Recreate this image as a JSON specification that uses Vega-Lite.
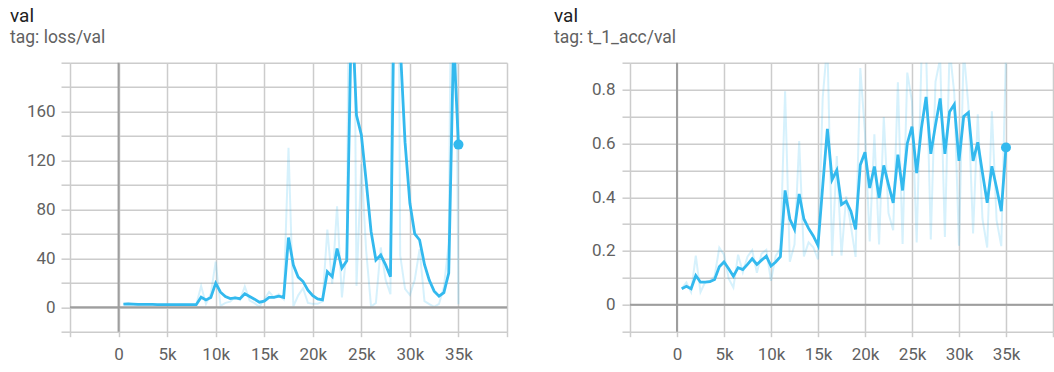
{
  "$schema": "https://vega.github.io/schema/vega-lite/v6.json",
  "background": "white",
  "padding": {"left": 10, "top": 6.7, "right": 0, "bottom": 5},
  "spacing": 46,
  "config": {
    "view": {"stroke": null},
    "font": "Roboto",
    "title": {"anchor": "start", "frame": "group", "font": "Roboto", "fontSize": 19, "fontWeight": "normal", "color": "#212121", "subtitleFont": "Roboto", "subtitleFontSize": 17.5, "subtitleColor": "#616161", "subtitlePadding": 3.5, "offset": 15},
    "axis": {"grid": true, "gridColor": "#cccccc", "gridWidth": 1.5, "tickColor": "#cccccc", "tickWidth": 1.5, "domain": false, "labelColor": "#616161", "labelFont": "Roboto", "labelFontSize": 17, "title": null, "tickCount": 30}
  },
  "hconcat": [
    {
      "width": 437,
      "height": 269,
      "title": {"text": "val", "subtitle": "tag: loss/val", "dx": -60},
      "data": {"values": [
        {"step": 500, "raw": 2.6, "smoothed": 2.6},
        {"step": 1000, "raw": 3.1, "smoothed": 2.8},
        {"step": 1500, "raw": 2.3, "smoothed": 2.6},
        {"step": 2000, "raw": 2.1, "smoothed": 2.4},
        {"step": 2500, "raw": 2.4, "smoothed": 2.4},
        {"step": 3000, "raw": 2.15, "smoothed": 2.3},
        {"step": 3500, "raw": 2.3, "smoothed": 2.3},
        {"step": 4000, "raw": 2.05, "smoothed": 2.2},
        {"step": 4500, "raw": 2.2, "smoothed": 2.2},
        {"step": 5000, "raw": 2.2, "smoothed": 2.2},
        {"step": 5500, "raw": 2.2, "smoothed": 2.2},
        {"step": 6000, "raw": 1.95, "smoothed": 2.1},
        {"step": 6500, "raw": 2.35, "smoothed": 2.2},
        {"step": 7000, "raw": 2.2, "smoothed": 2.2},
        {"step": 7500, "raw": 1.95, "smoothed": 2.1},
        {"step": 8000, "raw": 2.1, "smoothed": 2.1},
        {"step": 8500, "raw": 17.35, "smoothed": 8.2},
        {"step": 9000, "raw": 2.7, "smoothed": 6.0},
        {"step": 9500, "raw": 11, "smoothed": 8.0},
        {"step": 10000, "raw": 37.25, "smoothed": 19.7},
        {"step": 10500, "raw": 1.2, "smoothed": 12.3},
        {"step": 11000, "raw": 3.55, "smoothed": 8.8},
        {"step": 11500, "raw": 4.55, "smoothed": 7.1},
        {"step": 12000, "raw": 8.6, "smoothed": 7.7},
        {"step": 12500, "raw": 5.95, "smoothed": 7.0},
        {"step": 13000, "raw": 17, "smoothed": 11.0},
        {"step": 13500, "raw": 5.5, "smoothed": 8.8},
        {"step": 14000, "raw": 3.3, "smoothed": 6.6},
        {"step": 14500, "raw": 0.35, "smoothed": 4.1},
        {"step": 15000, "raw": 6.35, "smoothed": 5.0},
        {"step": 15500, "raw": 12.5, "smoothed": 8.0},
        {"step": 16000, "raw": 8, "smoothed": 8.0},
        {"step": 16500, "raw": 10.5, "smoothed": 9.0},
        {"step": 17000, "raw": 6.5, "smoothed": 8.0},
        {"step": 17500, "raw": 130.5, "smoothed": 57},
        {"step": 18000, "raw": 0.75, "smoothed": 34.5},
        {"step": 18500, "raw": 9.75, "smoothed": 24.6},
        {"step": 19000, "raw": 15.6, "smoothed": 21},
        {"step": 19500, "raw": 3.5, "smoothed": 14},
        {"step": 20000, "raw": 2.75, "smoothed": 9.5},
        {"step": 20500, "raw": 2.75, "smoothed": 6.8},
        {"step": 21000, "raw": 4.8, "smoothed": 6.0},
        {"step": 21500, "raw": 63.5, "smoothed": 29},
        {"step": 22000, "raw": 19, "smoothed": 25},
        {"step": 22500, "raw": 82.5, "smoothed": 48},
        {"step": 23000, "raw": 8, "smoothed": 32},
        {"step": 23500, "raw": 47, "smoothed": 38},
        {"step": 24000, "raw": 568, "smoothed": 250},
        {"step": 24500, "raw": 17.5, "smoothed": 157},
        {"step": 25000, "raw": 117, "smoothed": 141},
        {"step": 25500, "raw": 46, "smoothed": 103},
        {"step": 26000, "raw": 0.5, "smoothed": 62},
        {"step": 26500, "raw": 3.5, "smoothed": 38.6},
        {"step": 27000, "raw": 48.85, "smoothed": 42.7},
        {"step": 27500, "raw": 22.45, "smoothed": 34.6},
        {"step": 28000, "raw": 10.6, "smoothed": 25},
        {"step": 28500, "raw": 787.5, "smoothed": 330},
        {"step": 29000, "raw": 42.5, "smoothed": 215},
        {"step": 29500, "raw": 15, "smoothed": 135},
        {"step": 30000, "raw": 10, "smoothed": 85},
        {"step": 30500, "raw": 22.5, "smoothed": 60},
        {"step": 31000, "raw": 47.5, "smoothed": 55},
        {"step": 31500, "raw": 5, "smoothed": 35},
        {"step": 32000, "raw": 2.5, "smoothed": 22},
        {"step": 32500, "raw": 0.3, "smoothed": 13.2},
        {"step": 33000, "raw": 2.7, "smoothed": 9},
        {"step": 33500, "raw": 16.5, "smoothed": 12},
        {"step": 34000, "raw": 52, "smoothed": 28},
        {"step": 34500, "raw": 508, "smoothed": 220},
        {"step": 35000, "raw": 2.5, "smoothed": 133}
      ]},
      "layer": [
        {
          "mark": {"type": "line", "clip": true, "color": "#33b9ee", "opacity": 0.2, "strokeWidth": 2},
          "encoding": {
            "x": {"field": "step", "type": "quantitative",
              "scale": {"domain": [-5000, 40000], "nice": false, "zero": false},
              "axis": {"values": [-5000, 0, 5000, 10000, 15000, 20000, 25000, 30000, 35000, 40000], "labelExpr": "datum.value < 0 || datum.value > 35000 ? '' : (datum.value == 0 ? '0' : (datum.value / 1000) + 'k')", "tickSize": 5, "labelPadding": 10}},
            "y": {"field": "raw", "type": "quantitative",
              "scale": {"domain": [-20, 200], "nice": false, "zero": false},
              "axis": {"values": [-20, 0, 20, 40, 60, 80, 100, 120, 140, 160, 180, 200], "format": "d", "labelExpr": "datum.value >= 0 && datum.value <= 160 && datum.value % 40 == 0 ? datum.label : ''", "tickSize": 9, "labelPadding": 6}}
          }
        },
        {
          "data": {"values": [{}]},
          "mark": {"type": "rule", "color": "#9e9e9e", "strokeWidth": 2},
          "encoding": {"y": {"datum": 0, "type": "quantitative"}}
        },
        {
          "data": {"values": [{}]},
          "mark": {"type": "rule", "color": "#9e9e9e", "strokeWidth": 2},
          "encoding": {"x": {"datum": 0, "type": "quantitative"}}
        },
        {
          "mark": {"type": "line", "clip": true, "color": "#33b9ee", "strokeWidth": 2.8},
          "encoding": {
            "x": {"field": "step", "type": "quantitative"},
            "y": {"field": "smoothed", "type": "quantitative"}
          }
        },
        {
          "transform": [{"filter": "datum.step == 35000"}],
          "mark": {"type": "point", "filled": true, "opacity": 1, "color": "#33b9ee", "size": 100},
          "encoding": {
            "x": {"field": "step", "type": "quantitative"},
            "y": {"field": "smoothed", "type": "quantitative"}
          }
        }
      ]
    },
    {
      "width": 423,
      "height": 269,
      "title": {"text": "val", "subtitle": "tag: t_1_acc/val", "dx": -76},
      "data": {"values": [
        {"step": 500, "raw": 0.06, "smoothed": 0.06},
        {"step": 1000, "raw": 0.083, "smoothed": 0.069},
        {"step": 1500, "raw": 0.047, "smoothed": 0.06},
        {"step": 2000, "raw": 0.183, "smoothed": 0.109},
        {"step": 2500, "raw": 0.047, "smoothed": 0.084},
        {"step": 3000, "raw": 0.084, "smoothed": 0.084},
        {"step": 3500, "raw": 0.089, "smoothed": 0.086},
        {"step": 4000, "raw": 0.106, "smoothed": 0.094},
        {"step": 4500, "raw": 0.212, "smoothed": 0.141},
        {"step": 5000, "raw": 0.186, "smoothed": 0.159},
        {"step": 5500, "raw": 0.097, "smoothed": 0.134},
        {"step": 6000, "raw": 0.064, "smoothed": 0.106},
        {"step": 6500, "raw": 0.186, "smoothed": 0.138},
        {"step": 7000, "raw": 0.121, "smoothed": 0.131},
        {"step": 7500, "raw": 0.179, "smoothed": 0.15},
        {"step": 8000, "raw": 0.203, "smoothed": 0.171},
        {"step": 8500, "raw": 0.119, "smoothed": 0.15},
        {"step": 9000, "raw": 0.19, "smoothed": 0.166},
        {"step": 9500, "raw": 0.204, "smoothed": 0.181},
        {"step": 10000, "raw": 0.089, "smoothed": 0.144},
        {"step": 10500, "raw": 0.182, "smoothed": 0.159},
        {"step": 11000, "raw": 0.209, "smoothed": 0.179},
        {"step": 11500, "raw": 0.794, "smoothed": 0.425},
        {"step": 12000, "raw": 0.16, "smoothed": 0.319},
        {"step": 12500, "raw": 0.224, "smoothed": 0.281},
        {"step": 13000, "raw": 0.609, "smoothed": 0.412},
        {"step": 13500, "raw": 0.18, "smoothed": 0.319},
        {"step": 14000, "raw": 0.232, "smoothed": 0.284},
        {"step": 14500, "raw": 0.214, "smoothed": 0.256},
        {"step": 15000, "raw": 0.169, "smoothed": 0.221},
        {"step": 15500, "raw": 0.769, "smoothed": 0.44},
        {"step": 16000, "raw": 0.975, "smoothed": 0.654},
        {"step": 16500, "raw": 0.182, "smoothed": 0.465},
        {"step": 17000, "raw": 0.553, "smoothed": 0.5},
        {"step": 17500, "raw": 0.183, "smoothed": 0.373},
        {"step": 18000, "raw": 0.403, "smoothed": 0.385},
        {"step": 18500, "raw": 0.293, "smoothed": 0.348},
        {"step": 19000, "raw": 0.178, "smoothed": 0.28},
        {"step": 19500, "raw": 0.88, "smoothed": 0.52},
        {"step": 20000, "raw": 0.638, "smoothed": 0.567},
        {"step": 20500, "raw": 0.235, "smoothed": 0.434},
        {"step": 21000, "raw": 0.634, "smoothed": 0.514},
        {"step": 21500, "raw": 0.224, "smoothed": 0.398},
        {"step": 22000, "raw": 0.698, "smoothed": 0.518},
        {"step": 22500, "raw": 0.341, "smoothed": 0.447},
        {"step": 23000, "raw": 0.277, "smoothed": 0.379},
        {"step": 23500, "raw": 0.827, "smoothed": 0.558},
        {"step": 24000, "raw": 0.226, "smoothed": 0.425},
        {"step": 24500, "raw": 0.863, "smoothed": 0.6},
        {"step": 25000, "raw": 0.755, "smoothed": 0.662},
        {"step": 25500, "raw": 0.232, "smoothed": 0.49},
        {"step": 26000, "raw": 0.905, "smoothed": 0.656},
        {"step": 26500, "raw": 0.949, "smoothed": 0.773},
        {"step": 27000, "raw": 0.243, "smoothed": 0.561},
        {"step": 27500, "raw": 0.829, "smoothed": 0.668},
        {"step": 28000, "raw": 0.916, "smoothed": 0.767},
        {"step": 28500, "raw": 0.252, "smoothed": 0.561},
        {"step": 29000, "raw": 0.954, "smoothed": 0.718},
        {"step": 29500, "raw": 0.786, "smoothed": 0.745},
        {"step": 30000, "raw": 0.22, "smoothed": 0.535},
        {"step": 30500, "raw": 0.948, "smoothed": 0.7},
        {"step": 31000, "raw": 0.738, "smoothed": 0.715},
        {"step": 31500, "raw": 0.265, "smoothed": 0.535},
        {"step": 32000, "raw": 0.708, "smoothed": 0.604},
        {"step": 32500, "raw": 0.319, "smoothed": 0.49},
        {"step": 33000, "raw": 0.213, "smoothed": 0.379},
        {"step": 33500, "raw": 0.719, "smoothed": 0.515},
        {"step": 34000, "raw": 0.315, "smoothed": 0.435},
        {"step": 34500, "raw": 0.218, "smoothed": 0.348},
        {"step": 35000, "raw": 0.941, "smoothed": 0.585}
      ]},
      "layer": [
        {
          "mark": {"type": "line", "clip": true, "color": "#33b9ee", "opacity": 0.2, "strokeWidth": 2},
          "encoding": {
            "x": {"field": "step", "type": "quantitative",
              "scale": {"domain": [-5000, 40000], "nice": false, "zero": false},
              "axis": {"values": [-5000, 0, 5000, 10000, 15000, 20000, 25000, 30000, 35000, 40000], "labelExpr": "datum.value < 0 || datum.value > 35000 ? '' : (datum.value == 0 ? '0' : (datum.value / 1000) + 'k')", "tickSize": 5, "labelPadding": 10}},
            "y": {"field": "raw", "type": "quantitative",
              "scale": {"domain": [-0.1, 0.9], "nice": false, "zero": false},
              "axis": {"values": [-0.1, 0, 0.1, 0.2, 0.3, 0.4, 0.5, 0.6, 0.7, 0.8, 0.9], "format": "~g", "labelExpr": "datum.value > -0.01 && datum.value < 0.85 && round(datum.value * 10) % 2 == 0 ? datum.label : ''", "tickSize": 8, "labelPadding": 7}}
          }
        },
        {
          "data": {"values": [{}]},
          "mark": {"type": "rule", "color": "#9e9e9e", "strokeWidth": 2},
          "encoding": {"y": {"datum": 0, "type": "quantitative"}}
        },
        {
          "data": {"values": [{}]},
          "mark": {"type": "rule", "color": "#9e9e9e", "strokeWidth": 2},
          "encoding": {"x": {"datum": 0, "type": "quantitative"}}
        },
        {
          "mark": {"type": "line", "clip": true, "color": "#33b9ee", "strokeWidth": 2.8},
          "encoding": {
            "x": {"field": "step", "type": "quantitative"},
            "y": {"field": "smoothed", "type": "quantitative"}
          }
        },
        {
          "transform": [{"filter": "datum.step == 35000"}],
          "mark": {"type": "point", "filled": true, "opacity": 1, "color": "#33b9ee", "size": 100},
          "encoding": {
            "x": {"field": "step", "type": "quantitative"},
            "y": {"field": "smoothed", "type": "quantitative"}
          }
        }
      ]
    }
  ]
}
